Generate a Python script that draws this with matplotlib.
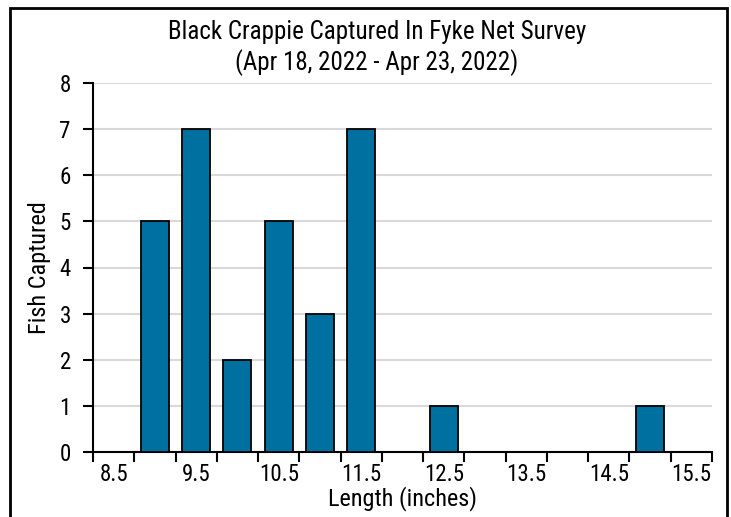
import matplotlib.pyplot as plt
from matplotlib.patches import Rectangle

# length bins (inches) and fish counts
lengths = [8.5, 9.0, 9.5, 10.0, 10.5, 11.0, 11.5, 12.0, 12.5, 13.0, 13.5, 14.0, 14.5, 15.0, 15.5]
counts = [0, 5, 7, 2, 5, 3, 7, 0, 1, 0, 0, 0, 0, 1, 0]
tick_labels = ["8.5", "9.5", "10.5", "11.5", "12.5", "13.5", "14.5", "15.5"]

plt.rcParams['font.family'] = ['Roboto Condensed', 'Roboto', 'DejaVu Sans']

fig = plt.figure(figsize=(7.31, 5.17), dpi=100)
ax = fig.add_axes([93 / 731, 1 - 452 / 517, (712 - 93) / 731, (452 - 83) / 517])

pos = list(range(len(lengths)))
ax.bar(pos, counts, width=0.68, color="#0070a0", edgecolor="black", linewidth=1.3, zorder=3)

ax.set_xlim(-0.5, len(lengths) - 0.5)
ax.set_ylim(0, 8)
ax.set_yticks(range(0, 9))
ax.set_xticks([p + 0.5 for p in range(-1, len(lengths))])
ax.set_xticklabels([])
ax.set_xticks(pos[::2], minor=True)
ax.set_xticklabels(tick_labels, minor=True)
ax.tick_params(axis="x", which="major", length=7, width=1.5, direction="out")
ax.tick_params(axis="x", which="minor", length=0, labelsize=16.5, pad=8)
ax.tick_params(axis="y", length=7, width=1.5, labelsize=16.5, pad=9)

ax.grid(axis="y", color="#d9d9d9", linewidth=1.5, zorder=0)
for s in ["top", "right"]:
    ax.spines[s].set_visible(False)
for s in ["left", "bottom"]:
    ax.spines[s].set_linewidth(1.5)

ax.set_xlabel("Length (inches)", fontsize=17.5, labelpad=0)
ax.set_ylabel("Fish Captured", fontsize=17.5, labelpad=6)

fig.text(377 / 731, 1 - 32 / 517, "Black Crappie Captured In Fyke Net Survey", ha="center", va="center", fontsize=18)
fig.text(377 / 731, 1 - 63 / 517, "(Apr 18, 2022 - Apr 23, 2022)", ha="center", va="center", fontsize=18)

# outer border (bottom edge falls outside the image)
fig.patches.append(Rectangle((9.5 / 731, -0.05), (727 - 9.5) / 731, 1.05 - 7.5 / 517,
                             transform=fig.transFigure, fill=False, edgecolor="black", linewidth=2))

fig.savefig("out.png", dpi=100)
